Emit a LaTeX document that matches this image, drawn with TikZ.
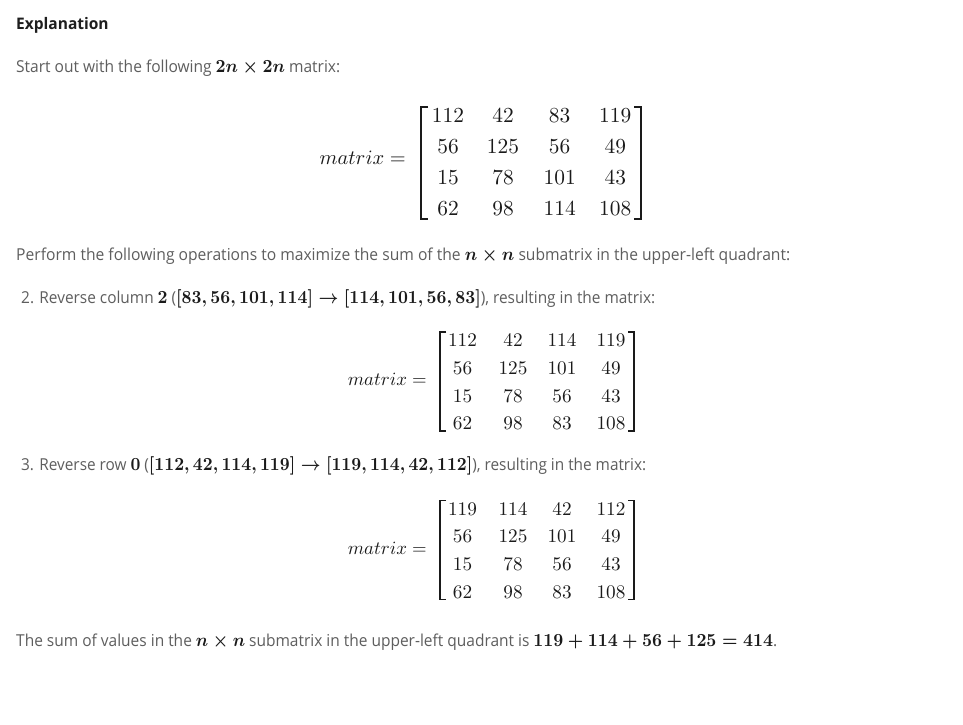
\documentclass[tikz,border=0pt]{standalone}
\usepackage{amsmath}
\DeclareFontFamily{OT1}{cmr}{\hyphenchar\font45 }
\DeclareFontShape{OT1}{cmr}{m}{n}{<->cmr10}{}
\DeclareFontShape{OT1}{cmr}{bx}{n}{<->cmbx10}{}
\DeclareFontFamily{OML}{cmm}{\skewchar\font127 }
\DeclareFontShape{OML}{cmm}{m}{it}{<->cmmi10}{}
\DeclareFontShape{OML}{cmm}{b}{it}{<->cmmib10}{}
\DeclareFontFamily{OMS}{cmsy}{\skewchar\font48 }
\DeclareFontShape{OMS}{cmsy}{m}{n}{<->cmsy10}{}
\DeclareFontShape{OMS}{cmsy}{b}{n}{<->cmbsy10}{}
\usepackage[no-math]{fontspec}
\setmainfont{Open Sans}
\usepackage{graphicx}
\definecolor{txtgray}{HTML}{5E5E5E}
\definecolor{headcol}{HTML}{1E1E1E}
\definecolor{mathcol}{HTML}{1A1A1A}
\newcommand{\mth}[1]{{\fontsize{18.5}{22}\selectfont\color{mathcol}\boldmath$#1$}}
\newcommand{\fitline}[2]{\resizebox{#1bp}{\height}{#2}}
\tikzset{
  txt/.style={anchor=base west, inner sep=0pt, text=txtgray, font=\fontsize{16.5}{20}\selectfont},
  head/.style={anchor=base west, inner sep=0pt, text=headcol, font=\fontsize{16}{20}\selectfont\bfseries},
  entA/.style={inner sep=0pt, text=mathcol, font=\fontsize{21.5}{25}\selectfont},
  entB/.style={inner sep=0pt, text=mathcol, font=\fontsize{19.3}{23}\selectfont},
  lblA/.style={anchor=base east, inner sep=0pt, text=mathcol, font=\fontsize{20.5}{24}\selectfont},
  lblB/.style={anchor=base east, inner sep=0pt, text=mathcol, font=\fontsize{18.8}{22}\selectfont},
  brk/.style={draw=mathcol, line width=1.3bp}
}
\begin{document}
\begin{tikzpicture}[x=1bp, y=-1bp]
\useasboundingbox[fill=white] (0,0) rectangle (963,725);

% headings and text lines
\node[head] (expl) at (16,30) {\fitline{92.5}{Explanation}};
\node[txt] (start) at (16,73) {\fitline{324}{Start out with the following \mth{2n \times 2n} matrix:}};
\node[txt] (perform) at (16,260.5) {\fitline{774}{Perform the following operations to maximize the sum of the \mth{n \times n} submatrix in the upper-left quadrant:}};
\node[txt] (step2) at (21,303.3) {\fitline{634}{2. Reverse column \mth{2} (\mth{[83, 56, 101, 114] \rightarrow [114, 101, 56, 83]}), resulting in the matrix:}};
\node[txt] (step3) at (21,470.5) {\fitline{625}{3. Reverse row \mth{0} (\mth{[112, 42, 114, 119] \rightarrow [119, 114, 42, 112]}), resulting in the matrix:}};
\node[txt] (sum) at (16,646.5) {\fitline{761}{The sum of values in the \mth{n \times n} submatrix in the upper-left quadrant is \mth{119 + 114 + 56 + 125 = 414}.}};

% matrix 1
\node[lblA] (lab1) at (406,164.4) {$matrix =$};
\foreach \y/\r [count=\i] in {115.7/{448/112,503/42,559.7/83,615.3/119},
                               146.7/{448/56,503/125,559.7/56,615.3/49},
                               177.3/{448/15,503/78,559.7/101,615.3/43},
                               208.3/{448/62,503/98,559.7/114,615.3/108}}
  \foreach \x/\v [count=\j] in \r
    \node[entA] (ma-\i-\j) at (\x,\y) {$\v$};
\draw[brk] (428,107) -- (421,107) -- (421,219) -- (428,219);
\draw[brk] (634,107) -- (641,107) -- (641,219) -- (634,219);

% matrix 2
\node[lblB] (lab2) at (427,385.5) {$matrix =$};
\foreach \y/\r [count=\i] in {340.5/{462.5/112,513/42,562/114,611/119},
                               368.2/{462.5/56,513/125,562/101,611/49},
                               395.9/{462.5/15,513/78,562/56,611/43},
                               423.6/{462.5/62,513/98,562/83,611/108}}
  \foreach \x/\v [count=\j] in \r
    \node[entB] (mb-\i-\j) at (\x,\y) {$\v$};
\draw[brk] (446,332) -- (440,332) -- (440,431) -- (446,431);
\draw[brk] (628,332) -- (634,332) -- (634,431) -- (628,431);

% matrix 3
\node[lblB] (lab3) at (427,554) {$matrix =$};
\foreach \y/\r [count=\i] in {509/{462.5/119,513/114,562/42,611/112},
                               536.7/{462.5/56,513/125,562/101,611/49},
                               564.4/{462.5/15,513/78,562/56,611/43},
                               592.1/{462.5/62,513/98,562/83,611/108}}
  \foreach \x/\v [count=\j] in \r
    \node[entB] (mc-\i-\j) at (\x,\y) {$\v$};
\draw[brk] (446,500.5) -- (440,500.5) -- (440,599.5) -- (446,599.5);
\draw[brk] (628,500.5) -- (634,500.5) -- (634,599.5) -- (628,599.5);
\end{tikzpicture}
\end{document}
